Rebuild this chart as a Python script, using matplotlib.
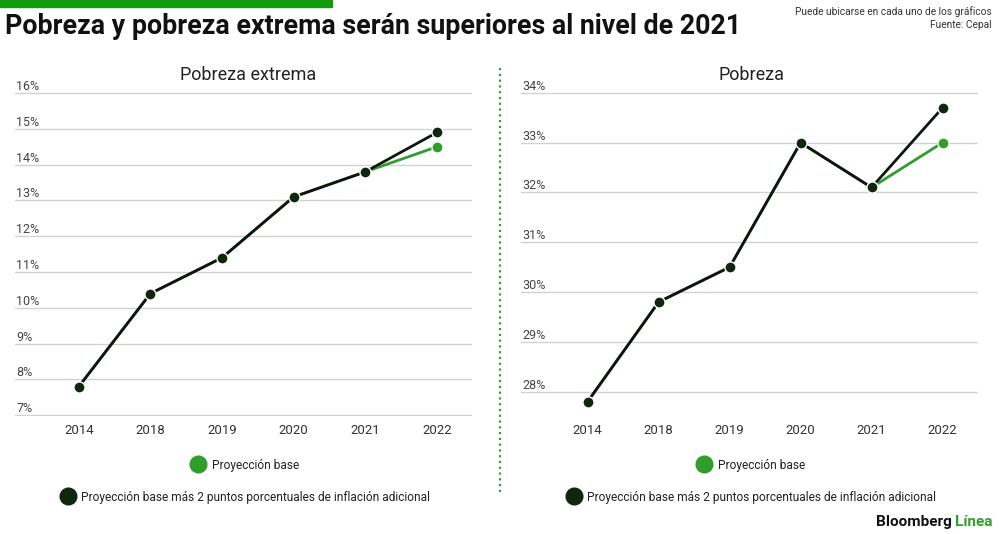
import matplotlib
matplotlib.use("Agg")
import matplotlib.pyplot as plt
from matplotlib.lines import Line2D
from matplotlib.transforms import blended_transform_factory

plt.rcParams['font.family'] = ['Roboto', 'DejaVu Sans']

# data
years = ['2014', '2018', '2019', '2020', '2021', '2022']
extrema_base = [7.8, 10.4, 11.4, 13.1, 13.8, 14.5]
extrema_infl = [7.8, 10.4, 11.4, 13.1, 13.8, 14.9]
pobreza_base = [27.8, 29.8, 30.5, 33.0, 32.1, 33.0]
pobreza_infl = [27.8, 29.8, 30.5, 33.0, 32.1, 33.7]
extrema_ticks = [7, 8, 9, 10, 11, 12, 13, 14, 15, 16]
pobreza_ticks = [28, 29, 30, 31, 32, 33, 34]

GREEN = '#2f9e2a'
DARK = '#11260f'
LINE_DARK = '#0e140e'
BAR_GREEN = '#119c0f'

fig = plt.figure(figsize=(10, 5.34), dpi=100)
fig.patch.set_facecolor('white')

# green strip top-left
fig.patches.append(plt.Rectangle((0, 1 - 7 / 534), 0.332, 7 / 534,
                                 transform=fig.transFigure, color=BAR_GREEN))

fig.text(0.005, 1 - 27 / 534, 'Pobreza y pobreza extrema serán superiores al nivel de 2021',
         fontsize=19.3, fontweight='bold', color='#111111', va='center', ha='left')
fig.text(0.992, 1 - 12 / 534, 'Puede ubicarse en cada uno de los gráficos',
         fontsize=7.3, color='#333333', ha='right', va='center')
fig.text(0.992, 1 - 25 / 534, 'Fuente: Cepal',
         fontsize=7.3, color='#333333', ha='right', va='center')


def draw_panel(rect, title, base, infl, ticks, ylim, xlim, title_x):
    ax = fig.add_axes(rect)
    x = list(range(len(years)))
    ax.plot(x, base, color=GREEN, lw=2, marker='o', ms=8, mfc=GREEN,
            mec='white', mew=1, zorder=3)
    ax.plot(x, infl, color=LINE_DARK, lw=2, marker='o', ms=8, mfc=DARK,
            mec='white', mew=1, zorder=4)
    ax.set_ylim(*ylim)
    ax.set_xlim(*xlim)
    ax.set_yticks(ticks)
    ax.set_yticklabels([])
    ax.tick_params(axis='y', length=0)
    ax.set_xticks(x)
    ax.set_xticklabels(years, fontsize=9.5, color='#333333')
    ax.tick_params(axis='x', length=0, pad=6)
    ax.grid(axis='y', color='#d2d2d2', lw=1)
    ax.set_axisbelow(True)
    for s in ax.spines.values():
        s.set_visible(False)
    tr = blended_transform_factory(ax.transAxes, ax.transData)
    for t in ticks:
        ax.text(0.003, t, f'{t}%', transform=tr, fontsize=9, color='#444444',
                ha='left', va='bottom')
    fig.text(title_x, 1 - 75 / 534, title, fontsize=13, color='#222222',
             ha='center', va='center')
    return ax


draw_panel([0.015, 0.221, 0.457, 0.606], 'Pobreza extrema', extrema_base,
           extrema_infl, extrema_ticks, (6.98, 16.02), (-0.89, 5.49), 0.248)
draw_panel([0.521, 0.221, 0.457, 0.606], 'Pobreza', pobreza_base,
           pobreza_infl, pobreza_ticks, (27.51, 34.01), (-0.94, 5.5), 0.752)

# legends, one row each, centred under each panel
lab_base = 'Proyección base'
lab_infl = 'Proyección base más 2 puntos porcentuales de inflación adicional'
for cx in (0.245, 0.751):
    h1 = Line2D([], [], ls='none', marker='o', ms=12, mfc=GREEN, mec=GREEN)
    h2 = Line2D([], [], ls='none', marker='o', ms=12, mfc=DARK, mec=DARK)
    l1 = fig.legend([h1], [lab_base], loc='center', bbox_to_anchor=(cx, 1 - 465 / 534),
                    frameon=False, fontsize=8.6, handletextpad=0.5, handlelength=1.2)
    l2 = fig.legend([h2], [lab_infl], loc='center', bbox_to_anchor=(cx, 1 - 497 / 534),
                    frameon=False, fontsize=8.6, handletextpad=0.5, handlelength=1.2)
    for lg in (l1, l2):
        for t in lg.get_texts():
            t.set_color('#222222')

# dotted separator
fig.add_artist(Line2D([0.5, 0.5], [1 - 68 / 534, 1 - 493 / 534], transform=fig.transFigure,
                      color='#3f9a36', lw=1.6, ls=(0, (1, 1.6))))

# brand mark
fig.text(0.9555, 1 - 522 / 534, 'Línea', fontsize=11, fontweight='bold',
         color=GREEN, ha='left', va='center')
fig.text(0.952, 1 - 522 / 534, 'Bloomberg', fontsize=11, fontweight='bold',
         color='#111111', ha='right', va='center')

fig.savefig('out.png', dpi=100, facecolor='white')
